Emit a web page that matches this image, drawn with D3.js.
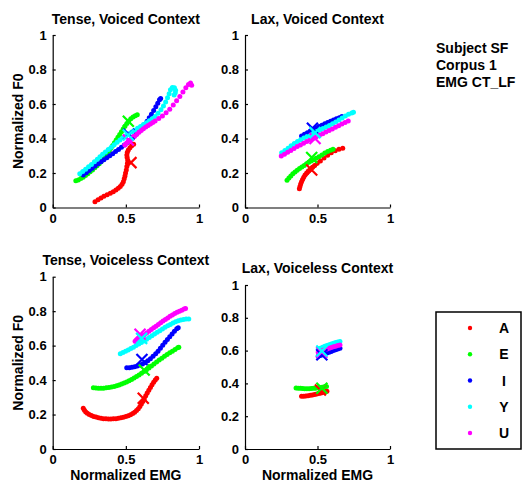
<!DOCTYPE html>
<html><head><meta charset="utf-8">
<script src="https://cdn.jsdelivr.net/npm/d3@7"></script>
<style>
body{margin:0;background:#fff;}
text{font-family:"Liberation Sans",Arial,sans-serif;font-weight:bold;fill:#000;}
</style></head>
<body><svg id="c" width="531" height="483"></svg>
<script>
// ---------- data ----------
const vowels = ["A","E","I","Y","U"];
const vowelColors = ["#ff0000","#00ff00","#0000ff","#00ffff","#ff00ff"];
const panelTitles = ["Tense, Voiced Context","Lax, Voiced Context","Tense, Voiceless Context","Lax, Voiceless Context"];
const yTicks = [0,0.2,0.4,0.6,0.8,1];
const yTickLabels = ["0","0.2","0.4","0.6","0.8","1"];
const xTicks = [0,0.5,1];
const xTickLabels = ["0","0.5","1"];
const infoLines = ["Subject SF","Corpus 1","EMG CT_LF"];

// Tense, Voiced
const tvA = [[0.289,0.034],[0.31,0.045],[0.33,0.055],[0.35,0.065],[0.372,0.074],[0.394,0.083],[0.414,0.092],[0.432,0.102],[0.448,0.111],[0.462,0.122],[0.474,0.135],[0.483,0.15],[0.489,0.166],[0.494,0.183],[0.498,0.2],[0.503,0.218],[0.507,0.237],[0.511,0.256],[0.513,0.274],[0.509,0.29],[0.507,0.305],[0.51,0.32],[0.517,0.334],[0.528,0.347],[0.54,0.358],[0.553,0.367]];
const tvE = [[0.158,0.155],[0.175,0.16],[0.192,0.168],[0.208,0.176],[0.224,0.185],[0.24,0.196],[0.256,0.207],[0.272,0.218],[0.288,0.23],[0.303,0.242],[0.318,0.254],[0.332,0.267],[0.346,0.281],[0.36,0.296],[0.373,0.311],[0.386,0.327],[0.398,0.343],[0.41,0.359],[0.422,0.375],[0.434,0.391],[0.446,0.407],[0.458,0.423],[0.47,0.439],[0.482,0.455],[0.494,0.471],[0.507,0.487],[0.52,0.502],[0.534,0.514],[0.549,0.524],[0.564,0.532],[0.578,0.538]];
const tvI = [[0.209,0.188],[0.23,0.201],[0.25,0.214],[0.27,0.227],[0.29,0.24],[0.31,0.253],[0.33,0.265],[0.35,0.277],[0.37,0.289],[0.39,0.3],[0.41,0.312],[0.43,0.324],[0.45,0.336],[0.47,0.349],[0.49,0.362],[0.51,0.376],[0.53,0.392],[0.55,0.408],[0.57,0.425],[0.59,0.443],[0.61,0.462],[0.628,0.481],[0.645,0.5],[0.66,0.52],[0.675,0.54],[0.69,0.562],[0.705,0.584],[0.718,0.605],[0.73,0.625],[0.738,0.632]];
const tvY = [[0.185,0.195],[0.205,0.208],[0.225,0.222],[0.245,0.236],[0.265,0.25],[0.285,0.265],[0.305,0.28],[0.323,0.294],[0.341,0.308],[0.36,0.322],[0.38,0.336],[0.4,0.35],[0.42,0.364],[0.44,0.378],[0.46,0.391],[0.48,0.404],[0.5,0.416],[0.52,0.427],[0.54,0.437],[0.56,0.448],[0.58,0.459],[0.6,0.47],[0.62,0.481],[0.64,0.492],[0.66,0.503],[0.68,0.514],[0.7,0.528],[0.72,0.546],[0.74,0.566],[0.757,0.588],[0.772,0.612],[0.785,0.636],[0.796,0.66],[0.805,0.683],[0.818,0.695],[0.832,0.694],[0.84,0.68],[0.838,0.665],[0.83,0.652]];
const tvU = [[0.494,0.362],[0.505,0.372],[0.518,0.382],[0.532,0.392],[0.546,0.402],[0.56,0.413],[0.575,0.424],[0.59,0.436],[0.605,0.447],[0.62,0.457],[0.636,0.466],[0.652,0.475],[0.668,0.484],[0.684,0.493],[0.7,0.502],[0.725,0.516],[0.75,0.531],[0.775,0.549],[0.8,0.57],[0.824,0.594],[0.847,0.619],[0.869,0.644],[0.89,0.669],[0.91,0.694],[0.928,0.713],[0.942,0.722],[0.95,0.708]];
const tvMarks = [[0.535,0.26],[0.517,0.5],[0.52,0.425],[0.517,0.42],[0.517,0.391]];

// Lax, Voiced
const lvA = [[0.375,0.108],[0.379,0.122],[0.384,0.136],[0.39,0.15],[0.397,0.163],[0.405,0.176],[0.414,0.188],[0.425,0.2],[0.437,0.211],[0.45,0.222],[0.465,0.233],[0.48,0.244],[0.498,0.256],[0.52,0.27],[0.545,0.287],[0.57,0.303],[0.595,0.317],[0.622,0.329],[0.648,0.337],[0.674,0.343]];
const lvE = [[0.29,0.158],[0.303,0.171],[0.316,0.183],[0.33,0.195],[0.345,0.206],[0.36,0.216],[0.376,0.226],[0.392,0.235],[0.408,0.244],[0.424,0.253],[0.44,0.262],[0.456,0.27],[0.472,0.277],[0.49,0.285],[0.51,0.294],[0.53,0.305],[0.55,0.316],[0.57,0.325],[0.59,0.332],[0.607,0.337]];
const lvI = [[0.39,0.414],[0.41,0.424],[0.43,0.433],[0.45,0.443],[0.47,0.452],[0.49,0.461],[0.51,0.469],[0.53,0.477],[0.55,0.485],[0.57,0.493],[0.59,0.5],[0.61,0.507],[0.63,0.514],[0.65,0.521],[0.668,0.527]];
const lvY = [[0.253,0.318],[0.275,0.331],[0.297,0.344],[0.318,0.358],[0.34,0.371],[0.362,0.382],[0.384,0.393],[0.406,0.403],[0.428,0.412],[0.45,0.421],[0.472,0.431],[0.494,0.44],[0.516,0.449],[0.538,0.458],[0.56,0.467],[0.582,0.476],[0.604,0.486],[0.626,0.496],[0.648,0.507],[0.67,0.519],[0.692,0.53],[0.714,0.54],[0.736,0.548],[0.748,0.552]];
const lvU = [[0.25,0.298],[0.272,0.309],[0.294,0.32],[0.316,0.331],[0.338,0.342],[0.36,0.353],[0.382,0.363],[0.404,0.373],[0.426,0.383],[0.448,0.392],[0.47,0.401],[0.492,0.41],[0.514,0.419],[0.536,0.428],[0.558,0.437],[0.58,0.446],[0.602,0.455],[0.624,0.465],[0.646,0.474],[0.668,0.484],[0.69,0.493],[0.712,0.501]];
const lvMarks = [[0.46,0.217],[0.46,0.29],[0.465,0.459],[0.483,0.434],[0.483,0.4]];

// Tense, Voiceless
const tlA = [[0.209,0.236],[0.217,0.225],[0.226,0.215],[0.237,0.207],[0.25,0.2],[0.265,0.194],[0.28,0.189],[0.296,0.185],[0.313,0.181],[0.33,0.178],[0.347,0.176],[0.364,0.175],[0.381,0.174],[0.398,0.174],[0.415,0.175],[0.432,0.176],[0.449,0.178],[0.466,0.181],[0.483,0.184],[0.5,0.188],[0.516,0.193],[0.532,0.199],[0.547,0.206],[0.56,0.214],[0.573,0.223],[0.585,0.234],[0.596,0.247],[0.606,0.261],[0.616,0.276],[0.626,0.292],[0.636,0.309],[0.646,0.325],[0.657,0.341],[0.668,0.357],[0.679,0.373],[0.69,0.388],[0.701,0.401],[0.711,0.41]];
const tlE = [[0.278,0.355],[0.295,0.354],[0.312,0.353],[0.33,0.353],[0.348,0.353],[0.366,0.355],[0.384,0.357],[0.402,0.36],[0.42,0.363],[0.437,0.367],[0.454,0.372],[0.471,0.377],[0.488,0.383],[0.505,0.389],[0.522,0.396],[0.539,0.404],[0.556,0.412],[0.573,0.421],[0.59,0.43],[0.607,0.44],[0.624,0.45],[0.641,0.46],[0.658,0.47],[0.675,0.481],[0.692,0.493],[0.71,0.505],[0.728,0.516],[0.746,0.527],[0.764,0.538],[0.782,0.548],[0.8,0.558],[0.818,0.568],[0.836,0.578],[0.854,0.587],[0.862,0.59]];
const tlI = [[0.506,0.472],[0.524,0.472],[0.542,0.474],[0.56,0.477],[0.578,0.481],[0.596,0.487],[0.614,0.494],[0.632,0.502],[0.65,0.512],[0.668,0.524],[0.686,0.538],[0.704,0.553],[0.72,0.568],[0.736,0.585],[0.752,0.602],[0.768,0.619],[0.784,0.636],[0.8,0.652],[0.816,0.668],[0.832,0.684],[0.848,0.698],[0.858,0.703]];
const tlY = [[0.462,0.553],[0.48,0.56],[0.498,0.567],[0.516,0.575],[0.534,0.583],[0.552,0.591],[0.57,0.6],[0.588,0.609],[0.606,0.618],[0.624,0.627],[0.642,0.637],[0.66,0.647],[0.678,0.657],[0.696,0.667],[0.714,0.677],[0.732,0.687],[0.75,0.697],[0.768,0.706],[0.786,0.715],[0.804,0.723],[0.822,0.731],[0.84,0.738],[0.858,0.744],[0.876,0.749],[0.894,0.752],[0.912,0.754],[0.93,0.754]];
const tlU = [[0.563,0.625],[0.578,0.634],[0.594,0.643],[0.61,0.653],[0.626,0.663],[0.642,0.673],[0.658,0.683],[0.674,0.693],[0.69,0.703],[0.706,0.713],[0.722,0.723],[0.738,0.733],[0.754,0.743],[0.77,0.752],[0.786,0.761],[0.802,0.77],[0.818,0.778],[0.834,0.786],[0.85,0.793],[0.866,0.8],[0.882,0.806],[0.898,0.812],[0.908,0.815]];
const tlMarks = [[0.619,0.294],[0.625,0.458],[0.61,0.52],[0.608,0.642],[0.597,0.666]];

// Lax, Voiceless
const llA = [[0.39,0.322],[0.405,0.322],[0.42,0.323],[0.435,0.325],[0.45,0.327],[0.465,0.329],[0.48,0.332],[0.495,0.335],[0.51,0.338],[0.525,0.342],[0.54,0.346],[0.555,0.35],[0.565,0.352]];
const llE = [[0.352,0.372],[0.367,0.371],[0.382,0.37],[0.397,0.369],[0.412,0.368],[0.427,0.368],[0.442,0.368],[0.457,0.369],[0.472,0.37],[0.487,0.371],[0.502,0.373],[0.517,0.375],[0.532,0.377],[0.547,0.379],[0.562,0.381]];
const llI = [[0.505,0.565],[0.52,0.57],[0.535,0.575],[0.55,0.58],[0.565,0.585],[0.58,0.59],[0.595,0.595],[0.61,0.6],[0.625,0.605],[0.64,0.61],[0.655,0.614]];
const llY = [[0.505,0.608],[0.52,0.614],[0.535,0.62],[0.55,0.626],[0.565,0.631],[0.58,0.636],[0.595,0.641],[0.61,0.645],[0.625,0.649],[0.64,0.652],[0.655,0.655]];
const llU = [[0.505,0.59],[0.52,0.595],[0.535,0.6],[0.55,0.605],[0.565,0.61],[0.58,0.615],[0.595,0.619],[0.61,0.623],[0.625,0.627],[0.64,0.631],[0.655,0.634]];
const llMarks = [[0.52,0.36],[0.53,0.37],[0.53,0.575],[0.53,0.598],[0.53,0.59]];

// ---------- layout ----------
const svg = d3.select("#c");
const panels = [
  {title:panelTitles[0], series:[tvA,tvE,tvI,tvY,tvU], marks:tvMarks, x0:52.7, x1:199, yb:207.5, yt:35,   titleY:19,  ylab:true,  xlab:false},
  {title:panelTitles[1], series:[lvA,lvE,lvI,lvY,lvU], marks:lvMarks, x0:245,  x1:390, yb:207.5, yt:35,   titleY:19,  ylab:false, xlab:false},
  {title:panelTitles[2], series:[tlA,tlE,tlI,tlY,tlU], marks:tlMarks, x0:52.7, x1:199, yb:449,   yt:276.7,titleY:260, ylab:true,  xlab:true},
  {title:panelTitles[3], series:[llA,llE,llI,llY,llU], marks:llMarks, x0:245,  x1:390, yb:449,   yt:285,  titleY:268, ylab:false, xlab:true}
];

panels.forEach(p => {
  const x = d3.scaleLinear().domain([0,1]).range([p.x0,p.x1]);
  const y = d3.scaleLinear().domain([0,1]).range([p.yb,p.yt]);
  const g = svg.append("g");

  const ya = d3.axisLeft(y).tickValues(yTicks).tickFormat((d,i)=>yTickLabels[i]).tickSizeInner(-3).tickSizeOuter(0).tickPadding(6);
  const xa = d3.axisBottom(x).tickValues(xTicks).tickFormat((d,i)=>xTickLabels[i]).tickSizeInner(-3).tickSizeOuter(0).tickPadding(6);
  const gy = g.append("g").attr("transform",`translate(${p.x0},0)`).call(ya);
  const gx = g.append("g").attr("transform",`translate(0,${p.yb})`).call(xa);
  [gx,gy].forEach(a=>{
    a.selectAll("path,line").attr("stroke","#000").attr("stroke-width",1.2);
    a.selectAll("text").style("font-size","13px").style("font-family","'Liberation Sans',Arial,sans-serif").style("font-weight","bold").attr("fill","#000");
  });

  g.append("text").attr("x",(p.x0+p.x1)/2).attr("y",p.titleY).attr("dy","0.35em")
    .attr("text-anchor","middle").style("font-size","14px").text(p.title);
  if (p.ylab) {
    g.append("text").attr("transform",`translate(18,${(p.yb+p.yt)/2}) rotate(-90)`).attr("dy","0.35em")
      .attr("text-anchor","middle").style("font-size","14px").text("Normalized F0");
  }
  if (p.xlab) {
    g.append("text").attr("x",(p.x0+p.x1)/2).attr("y",474.6).attr("dy","0.35em")
      .attr("text-anchor","middle").style("font-size","14px").text("Normalized EMG");
  }

  p.series.forEach((s,i)=>{
    g.append("g").selectAll("circle").data(s).join("circle")
      .attr("cx",d=>x(d[0])).attr("cy",d=>y(d[1])).attr("r",2.5).attr("fill",vowelColors[i]);
  });
  const order = [0,1,2,4,3];
  order.forEach(i=>{
    const m = p.marks[i], cx = x(m[0]), cy = y(m[1]), h = 5.5;
    g.append("path").attr("d",`M${cx-h},${cy-h}L${cx+h},${cy+h}M${cx-h},${cy+h}L${cx+h},${cy-h}`)
      .attr("stroke",vowelColors[i]).attr("stroke-width",2.2).attr("fill","none");
  });
});

// info text
svg.append("g").selectAll("text").data(infoLines).join("text")
  .attr("x",436).attr("y",(d,i)=>53+i*17).style("font-size","14px").text(d=>d);

// legend
const lg = svg.append("g");
lg.append("rect").attr("x",436).attr("y",312).attr("width",85).attr("height",137)
  .attr("fill","#fff").attr("stroke","#000").attr("stroke-width",1.5);
const ly = d3.scalePoint().domain(vowels).range([328,433]);
vowels.forEach((v,i)=>{
  lg.append("circle").attr("cx",470).attr("cy",ly(v)).attr("r",2.2).attr("fill",vowelColors[i]);
  lg.append("text").attr("x",504).attr("y",ly(v)).attr("dy","0.36em").attr("text-anchor","middle").style("font-size","14px").text(v);
});
</script></body></html>
